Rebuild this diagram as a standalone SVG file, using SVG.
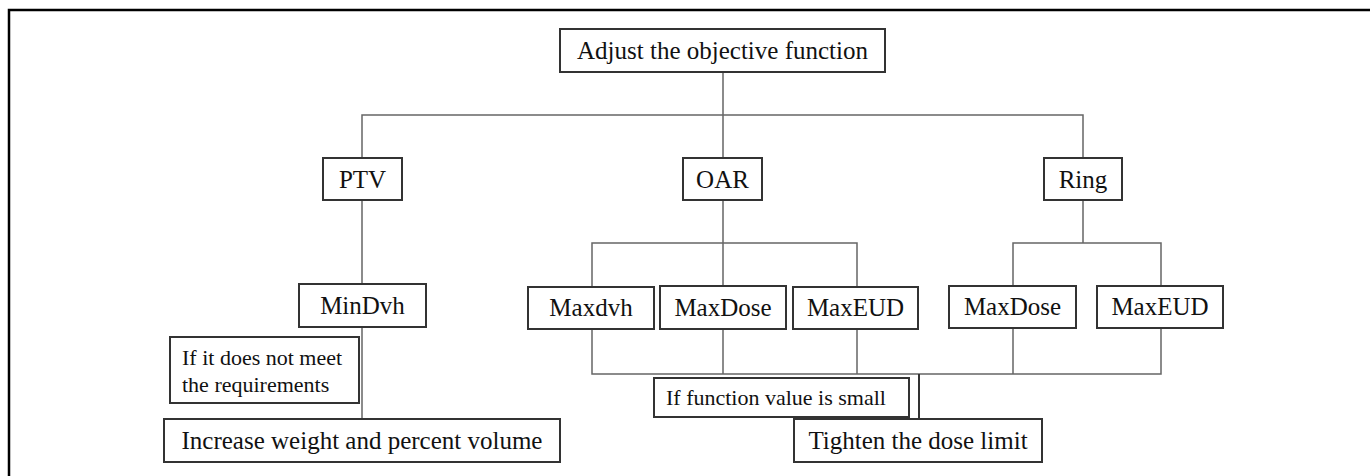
<svg xmlns="http://www.w3.org/2000/svg" width="1370" height="476" viewBox="0 0 1370 476">
<style>
.box{fill:#fff;stroke:#333;stroke-width:2}
.t{font-family:"Liberation Serif","Times New Roman",serif;font-size:25px;fill:#111;text-anchor:middle}
.s{font-family:"Liberation Serif","Times New Roman",serif;font-size:22px;fill:#111}
.c{fill:none;stroke:#666;stroke-width:1.5}
.frame{fill:none;stroke:#000;stroke-width:2.5}
</style>
<rect width="1370" height="476" fill="#fff"/>
<path class="frame" d="M9,476 V10 H1370"/>
<g id="connectors">
<path class="c" d="M723,72 V158 M362,158 V115 H1083 V158"/>
<path class="c" d="M362,200 V284 M362,327 V419"/>
<path class="c" d="M723,200 V287 M592,287 V243 H857 V287"/>
<path class="c" d="M1083,200 V243 M1013,286 V243 H1161 V286"/>
<path class="c" d="M592,329 V374 H1161 V328 M723,329 V374 M857,329 V374 M1013,328 V374"/>
<path class="c" d="M919,374 V419" style="stroke:#333;stroke-width:2"/>
</g>
<g id="root"><rect class="box" x="560" y="29" width="325" height="43"/><text class="t" x="722.5" y="59">Adjust the objective function</text></g>
<g id="ptv"><rect class="box" x="323" y="158" width="79" height="42"/><text class="t" x="362.5" y="188">PTV</text></g>
<g id="oar"><rect class="box" x="683" y="158" width="79" height="42"/><text class="t" x="722.5" y="188">OAR</text></g>
<g id="ring"><rect class="box" x="1044" y="158" width="78" height="42"/><text class="t" x="1083" y="188">Ring</text></g>
<g id="mindvh"><rect class="box" x="299" y="284" width="127" height="43"/><text class="t" x="362.5" y="314">MinDvh</text></g>
<g id="cond1"><rect class="box" x="170" y="337" width="189" height="66"/><text class="s" x="182" y="365">If it does not meet</text><text class="s" x="182" y="392">the requirements</text></g>
<g id="increase"><rect class="box" x="164" y="419" width="396" height="43"/><text class="t" x="362" y="449">Increase weight and percent volume</text></g>
<g id="maxdvh"><rect class="box" x="528" y="287" width="126" height="42"/><text class="t" x="591" y="316">Maxdvh</text></g>
<g id="oar-maxdose"><rect class="box" x="660" y="286" width="126" height="43"/><text class="t" x="723" y="316">MaxDose</text></g>
<g id="oar-maxeud"><rect class="box" x="793" y="287" width="125" height="42"/><text class="t" x="855.5" y="316">MaxEUD</text></g>
<g id="ring-maxdose"><rect class="box" x="949" y="286" width="127" height="42"/><text class="t" x="1012.5" y="315">MaxDose</text></g>
<g id="ring-maxeud"><rect class="box" x="1097" y="286" width="126" height="42"/><text class="t" x="1160" y="315">MaxEUD</text></g>
<g id="cond2"><rect class="box" x="654" y="378" width="255" height="39"/><text class="s" x="666" y="405">If function value is small</text></g>
<g id="tighten"><rect class="box" x="794" y="419" width="248" height="43"/><text class="t" x="918" y="449">Tighten the dose limit</text></g>
</svg>
